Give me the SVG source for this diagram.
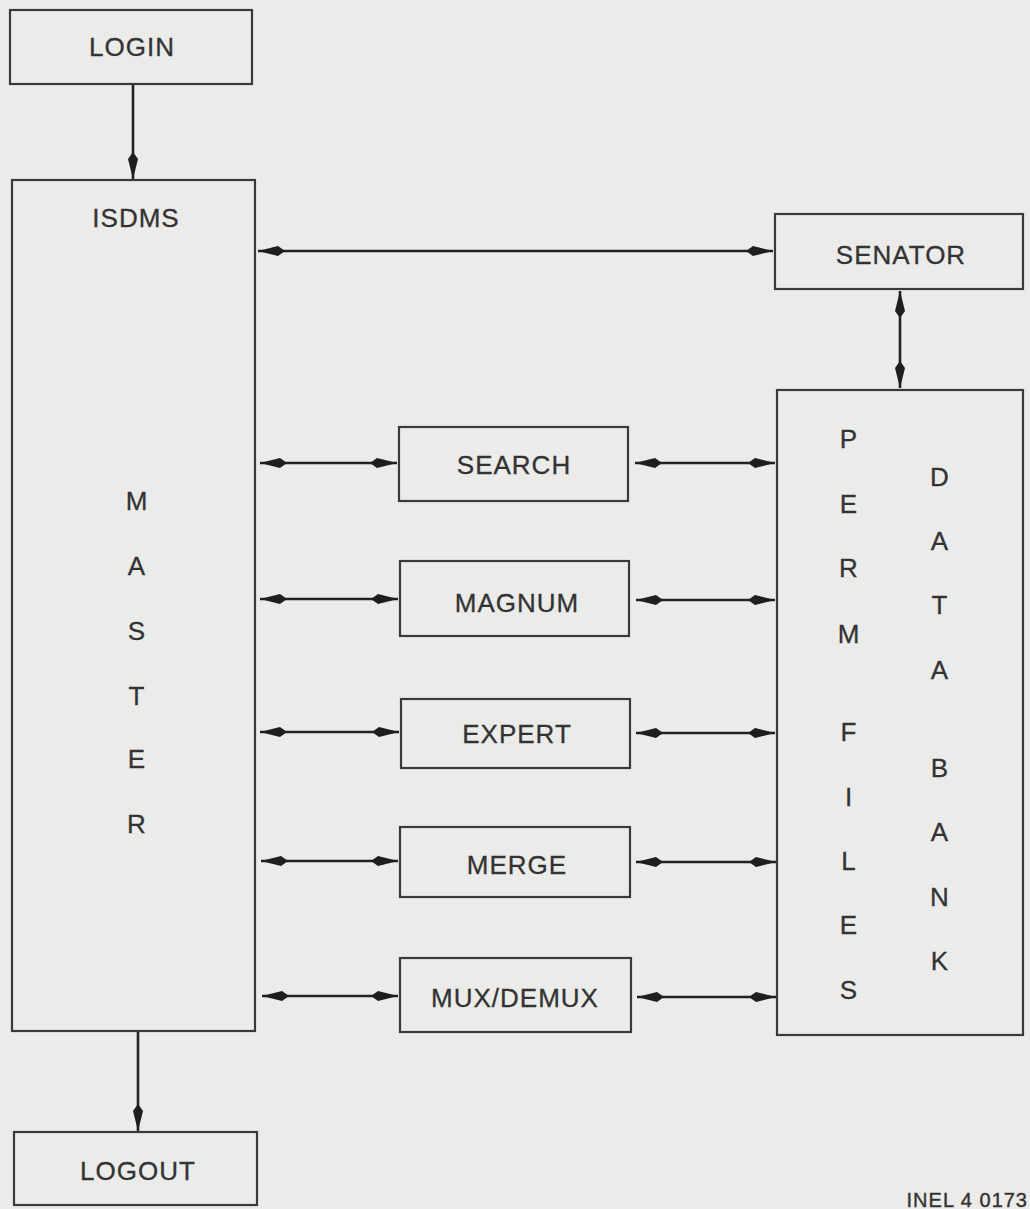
<svg xmlns="http://www.w3.org/2000/svg" width="1030" height="1209" viewBox="0 0 1030 1209">
<style>
.box{fill:none;stroke:#3a3a3a;stroke-width:2.2}
.t{font-family:"Liberation Sans",Arial,sans-serif;font-size:26px;letter-spacing:1px;fill:#333;stroke:#333;stroke-width:0.3;text-anchor:middle}
.c{stroke:#222;stroke-width:2.6;fill:none}
.d{marker-start:url(#ah);marker-end:url(#ah)}
.s{marker-end:url(#ah)}
</style>
<defs>
<marker id="ah" markerUnits="userSpaceOnUse" viewBox="0 0 28 12" refX="27" refY="6" markerWidth="28" markerHeight="12" orient="auto-start-reverse">
<path d="M0,6 L7,1 L27,6 L7,11 z" fill="#1e1e1e"/>
</marker>
</defs>
<rect width="1030" height="1209" fill="#ebebea"/>
<g id="connectors">
<line class="c s" x1="133" y1="85" x2="133" y2="179"/>
<line class="c s" x1="138" y1="1032" x2="138" y2="1131"/>
<line class="c d" x1="258" y1="251" x2="773" y2="251"/>
<line class="c d" x1="900" y1="291" x2="900" y2="388"/>
<line class="c d" x1="260" y1="463" x2="397" y2="463"/>
<line class="c d" x1="635" y1="463" x2="775" y2="463"/>
<line class="c d" x1="260" y1="599" x2="398" y2="599"/>
<line class="c d" x1="636" y1="600" x2="775" y2="600"/>
<line class="c d" x1="260" y1="732" x2="399" y2="732"/>
<line class="c d" x1="636" y1="733" x2="775" y2="733"/>
<line class="c d" x1="261" y1="861" x2="398" y2="861"/>
<line class="c d" x1="636" y1="862" x2="776" y2="862"/>
<line class="c d" x1="262" y1="996" x2="398" y2="996"/>
<line class="c d" x1="637" y1="997" x2="776" y2="997"/>
</g>
<g id="login"><rect class="box" x="10" y="10" width="242" height="74"/><text class="t" x="132" y="56">LOGIN</text></g>
<g id="master"><rect class="box" x="12" y="180" width="243" height="851"/>
<text class="t" x="136" y="227">ISDMS</text>
<text class="t" x="137" y="510">M</text>
<text class="t" x="137" y="575">A</text>
<text class="t" x="137" y="640">S</text>
<text class="t" x="137" y="705">T</text>
<text class="t" x="137" y="768">E</text>
<text class="t" x="137" y="833">R</text>
</g>
<g id="logout"><rect class="box" x="14" y="1132" width="243" height="73"/><text class="t" x="138" y="1180">LOGOUT</text></g>
<g id="senator"><rect class="box" x="775" y="214" width="248" height="75"/><text class="t" x="901" y="264">SENATOR</text></g>
<g id="databank"><rect class="box" x="777" y="390" width="246" height="645"/>
<text class="t" x="849" y="448">P</text>
<text class="t" x="849" y="513">E</text>
<text class="t" x="849" y="577">R</text>
<text class="t" x="849" y="643">M</text>
<text class="t" x="849" y="741">F</text>
<text class="t" x="849" y="806">I</text>
<text class="t" x="849" y="870">L</text>
<text class="t" x="849" y="934">E</text>
<text class="t" x="849" y="999">S</text>
<text class="t" x="940" y="486">D</text>
<text class="t" x="940" y="550">A</text>
<text class="t" x="940" y="614">T</text>
<text class="t" x="940" y="679">A</text>
<text class="t" x="940" y="777">B</text>
<text class="t" x="940" y="841">A</text>
<text class="t" x="940" y="906">N</text>
<text class="t" x="940" y="970">K</text>
</g>
<g id="search"><rect class="box" x="399" y="427" width="229" height="74"/><text class="t" x="514" y="474">SEARCH</text></g>
<g id="magnum"><rect class="box" x="400" y="561" width="229" height="75"/><text class="t" x="517" y="612">MAGNUM</text></g>
<g id="expert"><rect class="box" x="401" y="699" width="229" height="69"/><text class="t" x="517" y="743">EXPERT</text></g>
<g id="merge"><rect class="box" x="400" y="827" width="230" height="70"/><text class="t" x="517" y="874">MERGE</text></g>
<g id="muxdemux"><rect class="box" x="400" y="958" width="231" height="74"/><text class="t" x="515" y="1007">MUX/DEMUX</text></g>
<text x="1028" y="1207" font-family="Liberation Sans,Arial,sans-serif" font-size="20" letter-spacing="1" fill="#333" stroke="#333" stroke-width="0.4" text-anchor="end">INEL 4 0173</text>
</svg>
